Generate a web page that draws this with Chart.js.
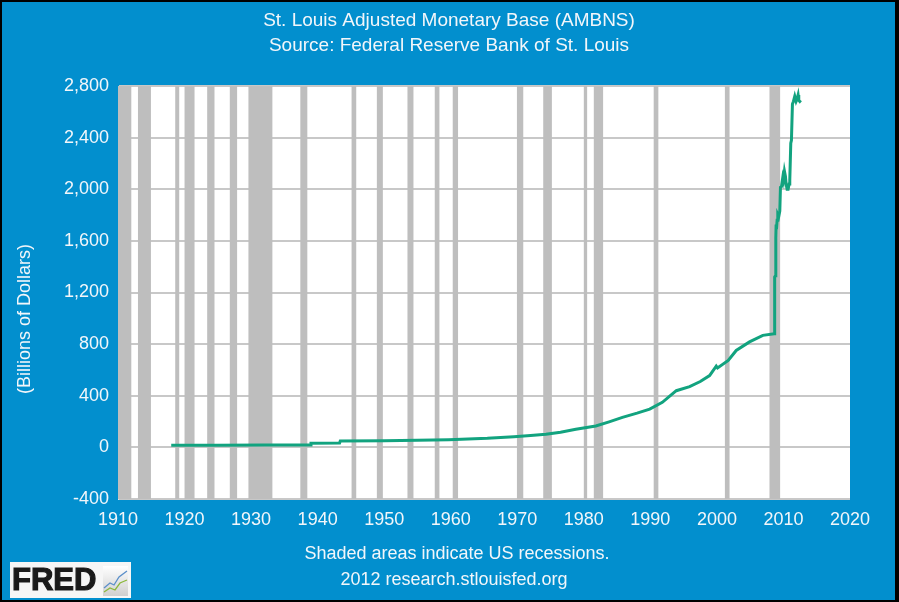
<!DOCTYPE html>
<html>
<head>
<meta charset="utf-8">
<script src="https://cdn.jsdelivr.net/npm/chart.js@4.4.0/dist/chart.umd.min.js"></script>
<style>
    body { margin: 0; background: #000; }
    canvas { display: block; }
</style>
</head>
<body>
<canvas id="ambnsChart" width="899" height="602"></canvas>
<script>
// Series (billions of dollars, fractional years)
const years = [
    1918, 1925, 1932, 1938.9, 1939, 1943.3, 1943.4, 1950, 1955, 1959.7,
    1965.5, 1969.5, 1972, 1974.3, 1976.5, 1978.8, 1981.8, 1983.8, 1985.8, 1988,
    1989.9, 1991.8, 1993.9, 1995.9, 1997.5, 1998.9, 1999.9, 2000.1, 2001.7, 2002.9,
    2004.9, 2006.9, 2008.62, 2008.66, 2008.7, 2008.8, 2008.85, 2008.9, 2008.95, 2009.05,
    2009.15, 2009.3, 2009.45, 2009.55, 2009.7, 2009.9, 2010.0, 2010.15, 2010.3, 2010.4,
    2010.55, 2010.7, 2010.85, 2010.95, 2011.1, 2011.2, 2011.35, 2011.5, 2011.7, 2011.8,
    2011.9, 2012.05, 2012.2, 2012.3, 2012.45, 2012.6
];
const values = [
    16, 17, 18, 19, 32, 34, 49, 52, 55, 60,
    70, 83, 92, 101, 118, 140, 166, 198, 232, 265,
    296, 349, 439, 470, 510, 556, 630, 615, 673, 751,
    817, 868, 881, 1000, 1320, 1330, 1620, 1727, 1690, 1760,
    1806, 1790, 1830, 2015, 2020, 2093, 2070, 2140, 2100, 2040,
    2000, 2000, 2040, 2070, 2357, 2380, 2660, 2680, 2720, 2700,
    2681, 2700, 2730, 2690, 2681, 2690
];

// US recessions (NBER), start / end as fractional years
const recessionStart = [1910.0, 1913.0, 1918.6, 1920.0, 1923.4, 1926.8, 1929.6, 1937.4, 1945.1, 1948.9,
    1953.5, 1957.6, 1960.3, 1969.95, 1973.9, 1980.0, 1981.5, 1990.5, 2001.2, 2007.9];
const recessionEnd = [1912.0, 1914.95, 1919.2, 1921.5, 1924.5, 1927.9, 1933.2, 1938.45, 1945.8, 1949.8,
    1954.4, 1958.3, 1961.1, 1970.9, 1975.2, 1980.5, 1982.9, 1991.2, 2001.9, 2009.5];

const xRange = [1910, 2020];
const yRange = [-400, 2800];
const yStep = 400;

const titleLines = ['St. Louis Adjusted Monetary Base (AMBNS)', 'Source: Federal Reserve Bank of St. Louis'];
const yTitle = '(Billions of Dollars)';
const footLines = ['Shaded areas indicate US recessions.', '2012 research.stlouisfed.org'];

const colors = {
    frame: '#028fce',
    text: '#f2f6fa',
    grid: '#c8c8c8',
    recession: '#bebebe',
    line: '#12a37f'
};

// background, recession bars, texts and logo
const fredFrame = {
    id: 'fredFrame',
    beforeDraw(chart) {
        const { ctx, chartArea: a, width, height } = chart;
        ctx.save();
        ctx.fillStyle = colors.frame;
        ctx.fillRect(0, 0, width, height);
        ctx.fillStyle = '#ffffff';
        ctx.fillRect(a.left, a.top, a.right - a.left, a.bottom - a.top);
        ctx.restore();
    },
    beforeDatasetsDraw(chart) {
        const { ctx, chartArea: a, scales: { x } } = chart;
        ctx.save();
        ctx.fillStyle = colors.recession;
        recessionStart.forEach((s, i) => {
            const x0 = Math.max(x.getPixelForValue(s), a.left);
            const x1 = x.getPixelForValue(recessionEnd[i]);
            ctx.fillRect(x0, a.top, x1 - x0, a.bottom - a.top);
        });
        ctx.restore();
    },
    afterDraw(chart) {
        const { ctx, width, height } = chart;
        ctx.save();
        ctx.fillStyle = colors.text;
        ctx.textAlign = 'center';
        ctx.textBaseline = 'middle';
        ctx.font = '19px "Liberation Sans", Arial, sans-serif';
        ctx.fillText(titleLines[0], 449, 21);
        ctx.fillText(titleLines[1], 449, 46);

        ctx.font = '18px "Liberation Sans", Arial, sans-serif';
        ctx.fillText(footLines[0], 457, 554);
        ctx.fillText(footLines[1], 454, 580);

        ctx.save();
        ctx.translate(25, 319);
        ctx.rotate(-Math.PI / 2);
        ctx.fillText(yTitle, 0, 0);
        ctx.restore();

        // FRED logo box
        ctx.fillStyle = '#f6f6f6';
        ctx.fillRect(10, 562, 121, 36);
        ctx.fillStyle = '#1a1a1a';
        ctx.strokeStyle = '#1a1a1a';
        ctx.lineWidth = 1.2;
        ctx.textAlign = 'left';
        ctx.font = 'bold 31px "Liberation Sans", Arial, sans-serif';
        ctx.fillText('FRED', 12, 581);
        ctx.strokeText('FRED', 12, 581);
        const g = ctx.createLinearGradient(0, 566, 0, 596);
        g.addColorStop(0, '#ffffff');
        g.addColorStop(1, '#cfcfcf');
        ctx.fillStyle = g;
        ctx.fillRect(103, 566, 25, 30);
        ctx.lineWidth = 1.3;
        ctx.strokeStyle = '#5b8fc9';
        ctx.beginPath();
        ctx.moveTo(104, 588); ctx.lineTo(110, 583); ctx.lineTo(114, 585); ctx.lineTo(119, 577); ctx.lineTo(127, 571);
        ctx.stroke();
        ctx.strokeStyle = '#8cb83c';
        ctx.beginPath();
        ctx.moveTo(104, 592); ctx.lineTo(110, 588); ctx.lineTo(115, 590); ctx.lineTo(120, 583); ctx.lineTo(127, 580);
        ctx.stroke();

        // outer black frame
        ctx.fillStyle = '#000';
        ctx.fillRect(0, 0, width, 2);
        ctx.fillRect(0, height - 2, width, 2);
        ctx.fillRect(0, 0, 2, height);
        ctx.fillRect(width - 4, 0, 4, height);
        ctx.restore();
    }
};

const ctx = document.getElementById('ambnsChart');
new Chart(ctx, {
    type: 'line',
    data: {
        datasets: [{
            label: 'AMBNS',
            data: years.map((yr, i) => ({ x: yr, y: values[i] })),
            borderColor: colors.line,
            borderWidth: 3,
            pointRadius: 0,
            tension: 0,
            fill: false
        }]
    },
    options: {
        responsive: false,
        animation: false,
        layout: {
            padding: { left: 0, top: 86, right: 49, bottom: 0 }
        },
        plugins: {
            legend: { display: false },
            tooltip: { enabled: false }
        },
        scales: {
            x: {
                type: 'linear',
                min: xRange[0],
                max: xRange[1],
                afterFit: (scale) => { scale.height = 103; },
                grid: { display: false, drawTicks: false },
                border: { display: false },
                ticks: {
                    stepSize: 10,
                    autoSkip: false,
                    maxRotation: 0,
                    padding: 10,
                    color: colors.text,
                    font: { family: '"Liberation Sans", Arial, sans-serif', size: 18 },
                    callback: (value) => String(value)
                }
            },
            y: {
                min: yRange[0],
                max: yRange[1],
                afterFit: (scale) => { scale.width = 118; },
                grid: { color: colors.grid, lineWidth: 2, drawTicks: false },
                border: { color: '#dfe8ef', width: 1 },
                ticks: {
                    stepSize: yStep,
                    padding: 9,
                    color: colors.text,
                    font: { family: '"Liberation Sans", Arial, sans-serif', size: 18 }
                }
            }
        }
    },
    plugins: [fredFrame]
});
</script>
</body>
</html>
